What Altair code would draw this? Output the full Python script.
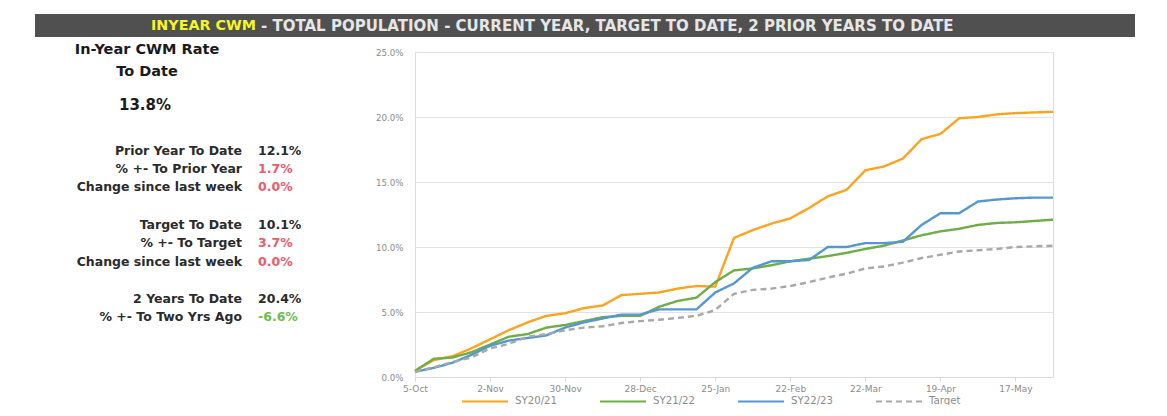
import altair as alt
import pandas as pd

# ---------------- data ----------------
weeks = ["5-Oct", "12-Oct", "19-Oct", "26-Oct", "2-Nov", "9-Nov", "16-Nov", "23-Nov",
         "30-Nov", "7-Dec", "14-Dec", "21-Dec", "28-Dec", "4-Jan", "11-Jan", "18-Jan",
         "25-Jan", "1-Feb", "8-Feb", "15-Feb", "22-Feb", "1-Mar", "8-Mar", "15-Mar",
         "22-Mar", "29-Mar", "5-Apr", "12-Apr", "19-Apr", "26-Apr", "3-May", "10-May",
         "17-May", "24-May", "31-May"]
axis_weeks = ["5-Oct", "2-Nov", "30-Nov", "28-Dec", "25-Jan", "22-Feb", "22-Mar", "19-Apr", "17-May"]

sy2021 = [0.5, 1.3, 1.6, 2.2, 2.9, 3.6, 4.2, 4.7, 4.9, 5.3, 5.5, 6.3, 6.4, 6.5, 6.8, 7.0, 6.95,
          10.7, 11.3, 11.8, 12.2, 13.0, 13.9, 14.4, 15.9, 16.2, 16.8, 18.3, 18.7, 19.9, 20.0,
          20.2, 20.3, 20.35, 20.4]
sy2122 = [0.46, 1.4, 1.5, 1.9, 2.5, 3.1, 3.3, 3.8, 4.0, 4.3, 4.6, 4.7, 4.7, 5.4, 5.85, 6.1, 7.3,
          8.2, 8.35, 8.6, 8.9, 9.1, 9.3, 9.55, 9.85, 10.1, 10.5, 10.9, 11.2, 11.4, 11.7, 11.85,
          11.9, 12.0, 12.1]
sy2223 = [0.4, 0.7, 1.1, 1.7, 2.4, 2.8, 3.0, 3.2, 3.8, 4.2, 4.5, 4.8, 4.8, 5.2, 5.2, 5.2, 6.5,
          7.2, 8.4, 8.9, 8.9, 9.0, 10.0, 10.0, 10.3, 10.3, 10.4, 11.7, 12.6, 12.6, 13.5, 13.65,
          13.75, 13.8, 13.8]
target = [0.4, 0.75, 1.15, 1.5, 2.2, 2.55, 3.1, 3.3, 3.6, 3.8, 3.9, 4.15, 4.3, 4.4, 4.55, 4.7,
          5.15, 6.4, 6.7, 6.8, 7.0, 7.3, 7.65, 7.95, 8.35, 8.5, 8.8, 9.15, 9.4, 9.65, 9.75, 9.85,
          10.0, 10.05, 10.1]

series_names = ["SY20/21", "SY21/22", "SY22/23", "Target"]
series_values = [sy2021, sy2122, sy2223, target]

title_highlight = "INYEAR CWM"
title_rest = "- TOTAL POPULATION - CURRENT YEAR, TARGET TO DATE, 2 PRIOR YEARS TO DATE"
headline = ["In-Year CWM Rate", "To Date"]
headline_value = "13.8%"
row_labels = ["Prior Year To Date", "% +- To Prior Year", "Change since last week",
              "Target To Date", "% +- To Target", "Change since last week",
              "2 Years To Date", "% +- To Two Yrs Ago"]
row_values = ["12.1%", "1.7%", "0.0%", "10.1%", "3.7%", "0.0%", "20.4%", "-6.6%"]
row_kinds = ["plain", "bad", "bad", "plain", "bad", "bad", "plain", "good"]

# ---------------- styles / layout ----------------
colors = ["#FFA31F", "#6FAD46", "#5597D3", "#A8A8A8"]
dashes = [[1, 0], [1, 0], [1, 0], [6, 4]]
kind_color = {"plain": "#2B2B2B", "bad": "#F0596B", "good": "#6DBE4B"}
FONT = "DejaVu Sans"
OX, OY = 415, 52            # page position of plot origin
PW, PH = 638, 325
row_y = [151, 169, 187, 225, 243, 262, 299, 317]

rows = []
for name, vals in zip(series_names, series_values):
    for w, v in zip(weeks, vals):
        rows.append({"week": w, "rate": v / 100.0, "series": name})
df = pd.DataFrame(rows)

one = pd.DataFrame({"k": [0]})


def text(t, x, y, size, color, align="left", weight="normal"):
    return alt.Chart(pd.DataFrame({"t": [t]})).mark_text(
        align=align, baseline="middle", font=FONT, fontSize=size,
        fontWeight=weight, color=color
    ).encode(x=alt.value(x - OX), y=alt.value(y - OY), text="t:N")


legend = alt.Legend(
    orient="none", legendX=46, legendY=325, direction="horizontal", title=None,
    symbolType="stroke", symbolSize=2116, symbolStrokeWidth=2,
    labelFont=FONT, labelFontSize=10.2, labelColor="#8C8C8C",
    labelOffset=6, columnPadding=38,
)

lines = alt.Chart(df).mark_line(strokeWidth=2.4).encode(
    x=alt.X("week:O", sort=weeks, scale=alt.Scale(type="point", padding=0),
            axis=alt.Axis(values=axis_weeks, labelAngle=0, title=None, grid=False,
                          domainColor="#D9D9D9", tickColor="#D9D9D9", tickSize=4,
                          labelColor="#8C8C8C", labelFont=FONT, labelFontSize=9,
                          labelPadding=3)),
    y=alt.Y("rate:Q", scale=alt.Scale(domain=[0, 0.25]),
            axis=alt.Axis(values=[0, 0.05, 0.10, 0.15, 0.20, 0.25], format=".1%",
                          title=None, domain=False, ticks=False, gridColor="#E3E3E3",
                          labelColor="#8C8C8C", labelFont=FONT, labelFontSize=8.7,
                          labelPadding=12)),
    color=alt.Color("series:N", scale=alt.Scale(domain=series_names, range=colors),
                    legend=legend),
    strokeDash=alt.StrokeDash("series:N", scale=alt.Scale(domain=series_names, range=dashes),
                              legend=legend),
)

bar = alt.Chart(one).mark_rect(color="#505050").encode(
    x=alt.value(35 - OX), x2=alt.value(1135 - OX),
    y=alt.value(14 - OY), y2=alt.value(37 - OY),
)

layers = [bar,
          text(title_highlight, 256, 26, 14.3, "#F5F52A", "right", "bold"),
          text(title_rest, 261, 26, 15, "#E6E6E6", "left", "bold"),
          text(headline[0], 147, 50, 14.5, "#1A1A1A", "center", "bold"),
          text(headline[1], 147, 72, 14.5, "#1A1A1A", "center", "bold"),
          text(headline_value, 145, 105, 15, "#1A1A1A", "center", "bold"),
          lines]
for lab, val, kind, yy in zip(row_labels, row_values, row_kinds, row_y):
    layers.append(text(lab, 242, yy, 12.5, "#2B2B2B", "right", "bold"))
    layers.append(text(val, 258, yy, 12.5, kind_color[kind], "left", "bold"))

chart = alt.layer(*layers).properties(
    width=PW, height=PH,
    padding={"left": OX - 8, "top": OY - 8, "right": 1151 - (OX - 8) - PW, "bottom": 28},
    autosize=alt.AutoSizeParams(type="none"),
).configure_view(stroke=None).configure(background="white")

chart.save("out.html", embed_options={"renderer": "svg", "actions": False})
